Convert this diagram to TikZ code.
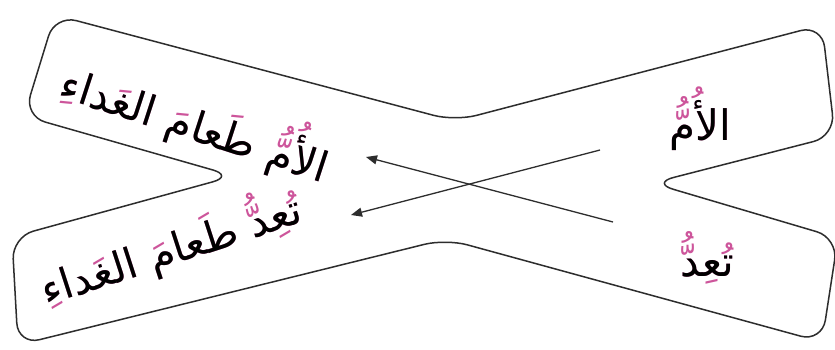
\documentclass[tikz,border=0pt]{standalone}
\usepackage{fontspec}
\usetikzlibrary{arrows.meta}
\TeXXeTstate=1
\newfontfamily\arabicfont[Script=Arabic]{DejaVu Sans}
\definecolor{outl}{RGB}{45,45,45}
\definecolor{harak}{RGB}{205,85,155}
\begin{document}
\begin{tikzpicture}[x=1pt,y=-1pt,
  band/.style={draw=outl,line width=1.5pt,rounded corners=22pt,line join=round},
  arr/.style={draw=outl,line width=1.3pt,-{Triangle[length=11pt,width=9pt]}},
  marks/.style={anchor=base,inner sep=0pt,text=harak,font=\arabicfont\fontsize{42}{50}\selectfont},
  word/.style={anchor=base,inner sep=0pt,text=black,font=\arabicfont\fontsize{42}{50}\selectfont}]
\fill[white] (0,0) rectangle (835,349);
\useasboundingbox (0,0) rectangle (835,349);
\draw[band] (55,15) -- (455,121) -- (822,25) -- (835,136) -- (652,183) -- (838,238) -- (822,342) -- (446,239) -- (18,345) -- (12,237) -- (234,176) -- (24,116) -- cycle;
% texts
\node[marks,rotate=-18] (t1m) at (190,140) {\beginR الأُمُّ طَعامَ الغَداءِ\endR};
\node[word,rotate=-18] (t1) at (190,140) {\beginR الأم طعام الغداء\endR};
\node[marks,rotate=18] (t2m) at (176,264) {\beginR تُعِدُّ طَعامَ الغَداءِ\endR};
\node[word,rotate=18] (t2) at (176,264) {\beginR تعد طعام الغداء\endR};
\node[marks] (t3m) at (700,140) {\beginR الأُمُّ\endR};
\node[word] (t3) at (700,140) {\beginR الأم\endR};
\node[marks] (t4m) at (707,276) {\beginR تُعِدُّ\endR};
\node[word] (t4) at (707,276) {\beginR تعد\endR};
% arrows
\coordinate (a1s) at (613,222);
\coordinate (a1e) at (366,157);
\coordinate (a2s) at (600,150);
\coordinate (a2e) at (351,215);
\draw[arr] (a1s) -- (a1e);
\draw[arr] (a2s) -- (a2e);
\end{tikzpicture}
\end{document}
